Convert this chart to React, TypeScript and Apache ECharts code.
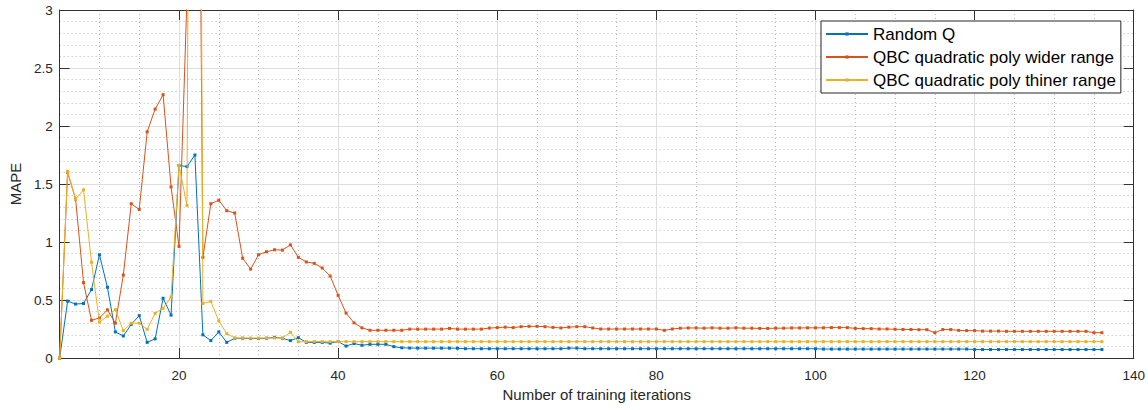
import React, { useEffect, useRef } from "react";
import * as echarts from "echarts";

// x positions: training iterations 5..136
const iterations: number[] = Array.from({ length: 132 }, (_, i) => 5 + i);

const seriesNames = [
  "Random Q",
  "QBC quadratic poly wider range",
  "QBC quadratic poly thiner range",
];

// Random Q (x = 5..136)
const randomQ: number[] = [
  0, 0.49, 0.465, 0.47, 0.59, 0.89, 0.61, 0.225, 0.19, 0.29, // 5-14
  0.365, 0.135, 0.165, 0.515, 0.37, 1.66, 1.65, 1.75, 0.2, 0.15, // 15-24
  0.225, 0.135, 0.17, 0.17, 0.168, 0.168, 0.17, 0.178, 0.17, 0.15, // 25-34
  0.175, 0.135, 0.134, 0.134, 0.128, 0.142, 0.103, 0.125, 0.11, 0.118, // 35-44
  0.118, 0.118, 0.098, 0.088, 0.086, 0.085, 0.085, 0.085, 0.085, 0.085, // 45-54
  0.084, 0.08, 0.08, 0.08, 0.08, 0.08, 0.08, 0.08, 0.08, 0.08, // 55-64
  0.08, 0.08, 0.08, 0.08, 0.085, 0.085, 0.08, 0.08, 0.08, 0.08, // 65-74
  0.08, 0.08, 0.08, 0.08, 0.08, 0.08, 0.08, 0.08, 0.08, 0.08, // 75-84
  0.08, 0.08, 0.08, 0.08, 0.08, 0.08, 0.08, 0.08, 0.08, 0.08, // 85-94
  0.08, 0.08, 0.08, 0.08, 0.08, 0.08, 0.077, 0.077, 0.077, 0.077, // 95-104
  0.077, 0.077, 0.077, 0.077, 0.077, 0.077, 0.077, 0.077, 0.077, 0.077, // 105-114
  0.077, 0.077, 0.077, 0.077, 0.077, 0.073, 0.073, 0.073, 0.073, 0.073, // 115-124
  0.073, 0.073, 0.073, 0.073, 0.073, 0.073, 0.073, 0.073, 0.073, 0.073, // 125-134
  0.073, 0.073, // 135-136
];

// QBC quadratic poly wider range (x = 5..136)
const qbcWider: number[] = [
  0, 1.6, 1.37, 0.65, 0.325, 0.345, 0.415, 0.3, 0.715, 1.33, // 5-14
  1.28, 1.95, 2.145, 2.27, 1.475, 0.962, 3.1, 9.5, 0.867, 1.33, // 15-24
  1.36, 1.27, 1.25, 0.86, 0.766, 0.89, 0.916, 0.933, 0.93, 0.975, // 25-34
  0.868, 0.828, 0.816, 0.776, 0.707, 0.54, 0.387, 0.303, 0.26, 0.239, // 35-44
  0.239, 0.239, 0.239, 0.239, 0.249, 0.249, 0.249, 0.249, 0.249, 0.255, // 45-54
  0.249, 0.249, 0.249, 0.249, 0.258, 0.262, 0.266, 0.262, 0.27, 0.273, // 55-64
  0.273, 0.27, 0.264, 0.259, 0.266, 0.27, 0.27, 0.259, 0.25, 0.25, // 65-74
  0.25, 0.25, 0.25, 0.25, 0.25, 0.25, 0.238, 0.25, 0.257, 0.259, // 75-84
  0.259, 0.257, 0.26, 0.257, 0.257, 0.26, 0.257, 0.257, 0.255, 0.255, // 85-94
  0.257, 0.257, 0.259, 0.259, 0.26, 0.26, 0.26, 0.262, 0.262, 0.262, // 95-104
  0.255, 0.253, 0.253, 0.25, 0.25, 0.248, 0.246, 0.246, 0.244, 0.244, // 105-114
  0.218, 0.245, 0.245, 0.238, 0.236, 0.236, 0.232, 0.232, 0.232, 0.23, // 115-124
  0.23, 0.23, 0.23, 0.23, 0.23, 0.23, 0.23, 0.23, 0.23, 0.23, // 125-134
  0.218, 0.218, // 135-136
];

// QBC quadratic poly thiner range (x = 5..136)
const qbcThiner: number[] = [
  0, 1.61, 1.37, 1.45, 0.825, 0.31, 0.36, 0.417, 0.236, 0.3, // 5-14
  0.3, 0.247, 0.385, 0.428, 0.525, 1.66, 1.315, 16, 0.47, 0.488, // 15-24
  0.32, 0.21, 0.172, 0.172, 0.172, 0.172, 0.172, 0.172, 0.172, 0.222, // 25-34
  0.14, 0.141, 0.141, 0.141, 0.141, 0.141, 0.141, 0.141, 0.141, 0.141, // 35-44
  0.141, 0.141, 0.141, 0.141, 0.141, 0.141, 0.141, 0.141, 0.141, 0.141, // 45-54
  0.141, 0.141, 0.141, 0.141, 0.141, 0.141, 0.141, 0.141, 0.141, 0.141, // 55-64
  0.141, 0.141, 0.141, 0.141, 0.141, 0.141, 0.141, 0.141, 0.141, 0.141, // 65-74
  0.141, 0.141, 0.141, 0.141, 0.141, 0.141, 0.141, 0.141, 0.141, 0.141, // 75-84
  0.141, 0.141, 0.141, 0.141, 0.141, 0.141, 0.141, 0.141, 0.141, 0.141, // 85-94
  0.141, 0.141, 0.141, 0.141, 0.141, 0.141, 0.141, 0.141, 0.141, 0.141, // 95-104
  0.141, 0.141, 0.141, 0.141, 0.141, 0.141, 0.141, 0.141, 0.141, 0.141, // 105-114
  0.141, 0.141, 0.141, 0.141, 0.141, 0.141, 0.141, 0.141, 0.141, 0.141, // 115-124
  0.141, 0.141, 0.141, 0.141, 0.141, 0.141, 0.141, 0.141, 0.141, 0.141, // 125-134
  0.141, 0.141, // 135-136
];

const xTicks: number[] = [20, 40, 60, 80, 100, 120, 140];
const xMin = 5;
const xMax = 140;
const yMin = 0;
const yMax = 3;

const colors = ["#0072BD", "#D95319", "#EDB120"];
const FONT = "'Liberation Sans', Arial, Helvetica, sans-serif";
const AX = "#333333";
const TXT = "#262626";
const MAJOR = "#dedede";
const MINOR = "#b9b9b9";
const NONE = "rgba(0,0,0,0)";

export default function App() {
  const ref = useRef<HTMLDivElement>(null);

  useEffect(() => {
    if (!ref.current) return;
    const chart = echarts.init(ref.current, undefined, { renderer: "svg" });
    const values = [randomQ, qbcWider, qbcThiner];

    const hiddenX = {
      type: "value",
      position: "bottom",
      min: xMin,
      max: xMax,
      interval: 5,
      axisLine: { show: false },
      axisTick: { show: false },
      axisLabel: { show: false },
    };

    const option: any = {
      animation: false,
      backgroundColor: "#ffffff",
      textStyle: { fontFamily: FONT },
      grid: { left: 54, right: 14, top: 10, bottom: 52, containLabel: false },
      legend: {
        orient: "vertical",
        left: 821,
        top: 21,
        padding: [3, 5, 3, 4],
        itemWidth: 42,
        itemHeight: 4,
        itemGap: 3,
        backgroundColor: "#ffffff",
        borderColor: "#262626",
        borderWidth: 1,
        borderRadius: 0,
        textStyle: { fontFamily: FONT, fontSize: 17, color: "#000", lineHeight: 20 },
        data: seriesNames,
      },
      xAxis: [
        {
          type: "value",
          position: "bottom",
          min: xMin,
          max: xMax,
          interval: 5,
          name: "Number of training iterations",
          nameLocation: "middle",
          nameGap: 27,
          nameTextStyle: { fontFamily: FONT, fontSize: 15, color: TXT },
          axisLine: { show: true, onZero: false, lineStyle: { color: AX, width: 1 } },
          axisTick: { show: true, inside: true, length: 10, customValues: xTicks, lineStyle: { color: AX } },
          axisLabel: { customValues: xTicks, fontFamily: FONT, fontSize: 13.5, color: TXT, margin: 10 },
          splitLine: { show: false },
        },
        {
          type: "value",
          position: "top",
          min: xMin,
          max: xMax,
          interval: 5,
          axisLine: { show: true, onZero: false, lineStyle: { color: AX, width: 1 } },
          axisTick: { show: true, inside: true, length: 10, customValues: xTicks, lineStyle: { color: AX } },
          axisLabel: { show: false },
          splitLine: { show: false },
        },
        {
          ...hiddenX,
          splitLine: { show: true, lineStyle: { color: MINOR, width: 1, type: [1, 3] } },
        },
        {
          ...hiddenX,
          splitLine: { show: true, lineStyle: { color: [NONE, NONE, NONE, MAJOR], width: 1, type: "solid" } },
        },
      ],
      yAxis: [
        {
          type: "value",
          position: "left",
          min: yMin,
          max: yMax,
          interval: 0.5,
          name: "MAPE",
          nameLocation: "middle",
          nameGap: 31,
          nameTextStyle: { fontFamily: FONT, fontSize: 15, color: TXT },
          axisLine: { show: true, onZero: false, lineStyle: { color: AX, width: 1 } },
          axisTick: { show: true, inside: true, length: 10, lineStyle: { color: AX } },
          axisLabel: { fontFamily: FONT, fontSize: 13.5, color: TXT, margin: 7 },
          splitLine: { show: true, lineStyle: { color: MAJOR, width: 1 } },
          minorTick: { show: false, splitNumber: 5 },
          minorSplitLine: { show: true, lineStyle: { color: MINOR, width: 1, type: [1, 3] } },
        },
        {
          type: "value",
          position: "right",
          min: yMin,
          max: yMax,
          interval: 0.5,
          axisLine: { show: true, onZero: false, lineStyle: { color: AX, width: 1 } },
          axisTick: { show: true, inside: true, length: 10, lineStyle: { color: AX } },
          axisLabel: { show: false },
          splitLine: { show: false },
        },
      ],
      series: seriesNames.map((name, k) => ({
        name,
        type: "line",
        xAxisIndex: 0,
        yAxisIndex: 0,
        data: iterations.map((x, i) => [x, values[k][i]]),
        color: colors[k],
        symbol: "rect",
        symbolSize: 3,
        showSymbol: true,
        showAllSymbol: true,
        clip: true,
        lineStyle: { color: colors[k], width: 1 },
        itemStyle: { color: colors[k] },
        emphasis: { disabled: true },
        z: 3 + k,
      })),
    };

    chart.setOption(option);
    return () => chart.dispose();
  }, []);

  return (
    <div
      ref={ref}
      style={{ position: "absolute", left: 0, top: 0, width: 1148, height: 410, background: "#fff" }}
    />
  );
}
